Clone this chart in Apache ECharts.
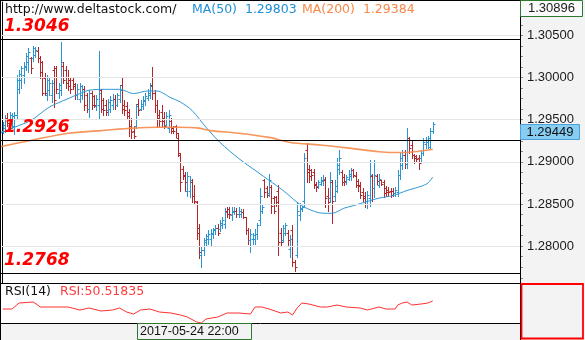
<!DOCTYPE html>
<html><head><meta charset="utf-8">
<script src="https://cdn.jsdelivr.net/npm/echarts@6/dist/echarts.min.js"></script>
<style>html,body{margin:0;padding:0;background:#fff}#c{width:585px;height:340px}</style>
</head><body><div id="c"></div>
<script>
// OHLC bars: [open, high, low, close]
const ohlc = [
[1.2936,1.2947,1.2934,1.2944],[1.2940,1.2955,1.2935,1.2952],[1.2952,1.2958,1.2943,1.2946],[1.2944,1.2959,1.2940,1.2955],
[1.2949,1.2958,1.2940,1.2954],[1.2943,1.2959,1.2933,1.2956],[1.2955,1.3003,1.2952,1.2997],[1.2987,1.3009,1.2982,1.3004],
[1.2997,1.3014,1.2988,1.3011],[1.3003,1.3018,1.2993,1.3014],[1.3013,1.3029,1.3009,1.3025],[1.3018,1.3035,1.3006,1.3030],
[1.3023,1.3024,1.3005,1.3011],[1.3023,1.3038,1.3020,1.3035],[1.3027,1.3036,1.3024,1.3033],[1.3032,1.3036,1.3018,1.3023],
[1.3023,1.3026,1.2999,1.3006],[1.3018,1.3020,1.2979,1.2982],[1.2999,1.3005,1.2979,1.2982],[1.2979,1.3003,1.2973,1.2997],
[1.2985,1.2999,1.2979,1.2994],[1.2979,1.2997,1.2971,1.2994],[1.3009,1.3014,1.2965,1.2973],[1.3011,1.3014,1.2982,1.2987],
[1.2982,1.2994,1.2976,1.2991],[1.2985,1.3042,1.2979,1.3018],[1.3014,1.3018,1.2994,1.2997],[1.3009,1.3014,1.2988,1.2994],
[1.3001,1.3009,1.2985,1.2990],[1.2997,1.3000,1.2982,1.2987],[1.2997,1.3000,1.2987,1.2990],[1.2992,1.2994,1.2975,1.2979],
[1.2979,1.2992,1.2975,1.2987],[1.2975,1.2994,1.2971,1.2990],[1.2979,1.2991,1.2975,1.2987],[1.2987,1.2990,1.2961,1.2967],
[1.2979,1.2982,1.2959,1.2963],[1.2963,1.2985,1.2953,1.2982],[1.2982,1.2984,1.2963,1.2968],[1.2978,1.2979,1.2965,1.2967],
[1.2966,1.2979,1.2961,1.2975],[1.2967,1.3032,1.2952,1.2982],[1.2985,1.2987,1.2959,1.2963],[1.2973,1.2976,1.2955,1.2961],
[1.2968,1.2973,1.2955,1.2959],[1.2961,1.2975,1.2956,1.2971],[1.2963,1.2978,1.2959,1.2973],[1.2968,1.2980,1.2963,1.2975],
[1.2975,1.2979,1.2963,1.2968],[1.2968,1.2982,1.2966,1.2979],[1.2975,1.2991,1.2971,1.2985],[1.2991,1.2999,1.2958,1.2963],
[1.2968,1.2973,1.2955,1.2961],[1.2966,1.2971,1.2952,1.2954],[1.2959,1.2963,1.2931,1.2940],[1.2943,1.2952,1.2928,1.2935],
[1.2937,1.2942,1.2928,1.2931],[1.2943,1.2969,1.2940,1.2966],[1.2969,1.2975,1.2955,1.2961],[1.2963,1.2973,1.2961,1.2969],
[1.2966,1.2978,1.2963,1.2973],[1.2972,1.2982,1.2968,1.2978],[1.2976,1.2987,1.2973,1.2982],[1.2979,1.2993,1.2976,1.2990],
[1.2991,1.3012,1.2975,1.2982],[1.2982,1.2985,1.2959,1.2967],[1.2968,1.2973,1.2941,1.2952],[1.2955,1.2961,1.2943,1.2949],
[1.2959,1.2967,1.2943,1.2949],[1.2952,1.2959,1.2940,1.2943],[1.2944,1.2959,1.2942,1.2954],[1.2940,1.2961,1.2935,1.2956],
[1.2949,1.2952,1.2934,1.2937],[1.2940,1.2942,1.2934,1.2937],[1.2942,1.2944,1.2930,1.2934],[1.2928,1.2934,1.2907,1.2911],
[1.2908,1.2910,1.2866,1.2876],[1.2892,1.2895,1.2880,1.2883],[1.2884,1.2888,1.2866,1.2876],[1.2866,1.2888,1.2860,1.2883],
[1.2866,1.2883,1.2858,1.2878],[1.2876,1.2880,1.2852,1.2860],[1.2860,1.2872,1.2851,1.2854],[1.2852,1.2854,1.2809,1.2816],
[1.2821,1.2826,1.2786,1.2793],[1.2789,1.2800,1.2775,1.2795],[1.2795,1.2810,1.2789,1.2807],[1.2805,1.2815,1.2800,1.2812],
[1.2809,1.2819,1.2803,1.2814],[1.2809,1.2820,1.2801,1.2816],[1.2814,1.2822,1.2810,1.2820],[1.2819,1.2825,1.2815,1.2822],
[1.2822,1.2826,1.2813,1.2816],[1.2820,1.2831,1.2818,1.2827],[1.2825,1.2834,1.2821,1.2831],[1.2826,1.2845,1.2822,1.2840],
[1.2842,1.2846,1.2834,1.2838],[1.2844,1.2846,1.2833,1.2838],[1.2837,1.2846,1.2831,1.2842],[1.2840,1.2846,1.2838,1.2842],
[1.2842,1.2845,1.2834,1.2838],[1.2838,1.2846,1.2834,1.2842],[1.2838,1.2844,1.2834,1.2841],[1.2841,1.2844,1.2833,1.2835],
[1.2834,1.2835,1.2815,1.2819],[1.2819,1.2822,1.2802,1.2807],[1.2807,1.2820,1.2793,1.2814],[1.2809,1.2816,1.2803,1.2813],
[1.2809,1.2820,1.2802,1.2815],[1.2814,1.2828,1.2809,1.2825],[1.2831,1.2869,1.2825,1.2860],[1.2842,1.2850,1.2839,1.2847],
[1.2878,1.2880,1.2858,1.2864],[1.2869,1.2871,1.2858,1.2861],[1.2863,1.2886,1.2860,1.2878],[1.2870,1.2872,1.2839,1.2848],
[1.2857,1.2860,1.2839,1.2842],[1.2858,1.2860,1.2848,1.2852],[1.2866,1.2872,1.2789,1.2805],[1.2816,1.2821,1.2801,1.2805],
[1.2807,1.2825,1.2805,1.2821],[1.2816,1.2828,1.2813,1.2825],[1.2816,1.2819,1.2801,1.2807],[1.2797,1.2813,1.2787,1.2809],
[1.2819,1.2825,1.2777,1.2781],[1.2781,1.2783,1.2770,1.2775],[1.2789,1.2852,1.2787,1.2842],[1.2837,1.2851,1.2831,1.2845],
[1.2844,1.2848,1.2842,1.2847],[1.2854,1.2911,1.2848,1.2904],[1.2914,1.2922,1.2876,1.2888],[1.2892,1.2896,1.2876,1.2883],
[1.2890,1.2892,1.2878,1.2884],[1.2888,1.2892,1.2869,1.2873],[1.2874,1.2876,1.2866,1.2870],[1.2871,1.2878,1.2869,1.2876],
[1.2874,1.2882,1.2872,1.2879],[1.2877,1.2884,1.2872,1.2880],[1.2879,1.2882,1.2846,1.2857],[1.2860,1.2869,1.2842,1.2852],
[1.2857,1.2888,1.2852,1.2878],[1.2876,1.2878,1.2828,1.2854],[1.2859,1.2878,1.2854,1.2871],[1.2866,1.2905,1.2864,1.2896],
[1.2892,1.2914,1.2886,1.2905],[1.2888,1.2890,1.2872,1.2876],[1.2882,1.2885,1.2872,1.2877],[1.2876,1.2884,1.2874,1.2882],
[1.2880,1.2890,1.2878,1.2886],[1.2883,1.2893,1.2878,1.2890],[1.2890,1.2891,1.2882,1.2884],[1.2883,1.2888,1.2870,1.2873],
[1.2877,1.2880,1.2866,1.2871],[1.2872,1.2876,1.2857,1.2861],[1.2864,1.2869,1.2852,1.2857],[1.2860,1.2864,1.2846,1.2854],
[1.2854,1.2866,1.2845,1.2861],[1.2857,1.2902,1.2848,1.2884],[1.2883,1.2885,1.2854,1.2869],[1.2869,1.2902,1.2858,1.2884],
[1.2883,1.2885,1.2874,1.2877],[1.2873,1.2886,1.2870,1.2880],[1.2878,1.2879,1.2872,1.2874],[1.2876,1.2878,1.2858,1.2863],
[1.2869,1.2871,1.2860,1.2864],[1.2867,1.2870,1.2861,1.2864],[1.2866,1.2869,1.2858,1.2861],[1.2866,1.2869,1.2860,1.2863],
[1.2863,1.2870,1.2860,1.2867],[1.2864,1.2890,1.2860,1.2884],[1.2884,1.2911,1.2880,1.2904],[1.2896,1.2914,1.2892,1.2908],
[1.2908,1.2914,1.2893,1.2898],[1.2898,1.2940,1.2893,1.2928],[1.2928,1.2930,1.2910,1.2916],[1.2920,1.2925,1.2904,1.2908],
[1.2908,1.2909,1.2899,1.2904],[1.2907,1.2908,1.2901,1.2903],[1.2905,1.2908,1.2892,1.2899],[1.2904,1.2914,1.2901,1.2911],
[1.2911,1.2928,1.2908,1.2923],[1.2921,1.2929,1.2916,1.2926],[1.2923,1.2931,1.2917,1.2928],[1.2918,1.2940,1.2916,1.2936],
[1.2937,1.2947,1.2934,1.29449]
];
// moving averages: [bar index, value]
const ma50 = [[-1,1.2934],[5,1.2941],[12,1.2949],[20,1.2965],[28,1.2975],[33,1.2981],[37,1.2985],[42,1.2986],[50,1.2986],[56,1.2981],[62,1.2984],[66,1.2984],[72,1.2976],[76,1.2971],[81,1.2961],[87,1.2941],[93,1.2923],[101,1.2904],[109,1.2888],[114,1.2878],[120,1.2866],[126,1.2852],[130,1.2845],[137,1.2839],[141,1.2839],[146,1.2845],[150,1.2848],[156,1.2853],[161,1.2857],[167,1.2860],[173,1.2866],[179,1.2871],[182,1.2875],[184,1.2882]];
const ma200 = [[-1,1.2918],[13,1.2926],[28,1.2934],[42,1.2937],[56,1.2940],[66,1.2941],[75,1.2941],[84,1.2940],[89,1.2937],[101,1.2934],[114,1.2929],[123,1.2923],[136,1.2920],[149,1.2916],[161,1.2912],[170,1.2911],[176,1.2912],[184,1.2915]];
// RSI(14): [bar index, value]
const rsi = [[0,40.8],[4,40.8],[7,48],[13,49.2],[15,45.6],[16,43.2],[20,43.2],[28,43.2],[33,39.6],[37,42],[42,38.4],[47,39.6],[50,42],[53,37.2],[56,34.8],[59,39.6],[63,40.8],[67,37.2],[72,36],[76,33.6],[79,31.2],[83,25.2],[85,24],[87,28.8],[92,31.2],[96,36],[101,36],[106,34.8],[108,43.2],[111,43.2],[114,40.8],[119,36],[122,37.2],[124,33.6],[126,42],[128,48],[131,46.8],[136,43.2],[139,43.2],[143,45.6],[147,43.2],[153,42],[156,39.6],[161,43.2],[164,40.8],[168,40.8],[169,45.6],[171,48],[173,49.2],[175,45.6],[179,46.8],[182,48],[184,50.5]];
const levels = [1.3046, 1.2926, 1.2768];
const yTicks = [1.280, 1.285, 1.290, 1.295, 1.300, 1.305];
const topPrice = 1.30896, bottomPrice = 1.27563;
const lastPrice = 1.29449;
const ma50Value = '1.29803', ma200Value = '1.29384', rsiValue = '50.51835';
const siteText = 'http://www.deltastock.com/';
const crossDate = '2017-05-24 22:00';

const UP = '#2b95d3', DOWN = '#b3262a';
const minorTicks = [];
for (let k = 0; k <= 26; k++) minorTicks.push(+(1.27625 + k * 0.00125).toFixed(5));

function renderOHLC(params, api) {
  const i = api.value(0);
  const o = api.value(1), h = api.value(2), l = api.value(3), c = api.value(4);
  const pH = api.coord([i, h]), pL = api.coord([i, l]);
  const pO = api.coord([i, o]), pC = api.coord([i, c]);
  const x = Math.round(pH[0]) + 0.5;
  const col = c >= o ? UP : DOWN;
  const yO = Math.round(pO[1]) + 0.5, yC = Math.round(pC[1]) + 0.5;
  const st = {stroke: col, lineWidth: 1};
  return {type: 'group', children: [
    {type: 'line', shape: {x1: x, y1: Math.round(pH[1]), x2: x, y2: Math.round(pL[1]) + 1}, style: st},
    {type: 'line', shape: {x1: x - 2, y1: yO, x2: x, y2: yO}, style: st},
    {type: 'line', shape: {x1: x, y1: yC, x2: x + 2, y2: yC}, style: st}
  ]};
}

const XMIN = -1.155, XMAX = 221.35;
const option = {
  animation: false,
  backgroundColor: '#ffffff',
  grid: [
    {left: 0, top: 2, width: 520, height: 281},
    {left: 0, top: 283, width: 520, height: 40}
  ],
  xAxis: [
    {type: 'value', gridIndex: 0, min: XMIN, max: XMAX, show: false},
    {type: 'value', gridIndex: 1, min: XMIN, max: XMAX, show: false}
  ],
  yAxis: [
    {type: 'value', gridIndex: 0, position: 'right', min: bottomPrice, max: topPrice,
     axisLine: {show: true, lineStyle: {color: '#000', width: 1}},
     axisTick: {show: true, customValues: yTicks, length: 5, lineStyle: {color: '#777'}},
     axisLabel: {show: true, customValues: yTicks, formatter: v => v.toFixed(5), color: '#1b1b1b',
                 fontFamily: 'Liberation Sans', fontSize: 13, margin: 7},
     splitLine: {show: false}},
    {type: 'value', gridIndex: 0, position: 'right', min: bottomPrice, max: topPrice,
     axisLine: {show: false},
     axisTick: {show: true, customValues: minorTicks, length: 3, lineStyle: {color: '#888'}},
     axisLabel: {show: false}, splitLine: {show: false}},
    {type: 'value', gridIndex: 1, min: 24, max: 72, show: false}
  ],
  series: [
    {type: 'line', xAxisIndex: 0, yAxisIndex: 0, data: ma200, z: 1, silent: true, showSymbol: false,
     lineStyle: {opacity: 0},
     markLine: {symbol: 'none', silent: true, animation: false, precision: 5,
       lineStyle: {color: '#e6e6e6', width: 1, type: 'solid'}, label: {show: false},
       data: yTicks.map(v => ({yAxis: v}))}},
    {type: 'custom', xAxisIndex: 0, yAxisIndex: 0, renderItem: renderOHLC, clip: true, z: 3,
     encode: {x: 0, y: [1, 2, 3, 4]},
     data: ohlc.map((d, i) => [i, d[0], d[1], d[2], d[3]])},
    {type: 'line', xAxisIndex: 0, yAxisIndex: 0, data: ma200, z: 2, silent: true, showSymbol: false,
     lineStyle: {opacity: 0},
     markLine: {symbol: 'none', silent: true, animation: false, precision: 5,
       lineStyle: {color: '#000', width: 1, type: 'solid'},
       label: {position: 'insideStartTop', formatter: p => Number(p.value).toFixed(4), color: '#ff0000',
               fontStyle: 'italic', fontWeight: 'bold', fontSize: 17, fontFamily: 'DejaVu Sans', distance: [4, 4]},
       data: levels.map(v => ({yAxis: v}))}},
    {type: 'line', name: 'MA(50)', xAxisIndex: 0, yAxisIndex: 0, data: ma50, smooth: 0.3, showSymbol: false,
     lineStyle: {color: '#2f97d6', width: 1}, z: 4, silent: true},
    {type: 'line', name: 'MA(200)', xAxisIndex: 0, yAxisIndex: 0, data: ma200, smooth: 0.3, showSymbol: false,
     lineStyle: {color: '#f5894a', width: 1.6, opacity: 0.9}, z: 4, silent: true},
    {type: 'line', name: 'RSI', xAxisIndex: 1, yAxisIndex: 2, data: rsi, showSymbol: false,
     lineStyle: {color: '#ff3030', width: 1}, z: 4, silent: true}
  ]
};

const chart = echarts.init(document.getElementById('c'), null, {renderer: 'canvas'});
chart.setOption(option);

const yLast = chart.convertToPixel({yAxisIndex: 0}, lastPrice);
const yTopPx = chart.convertToPixel({yAxisIndex: 0}, topPrice);
const SMALL = 'DejaVu Sans';
chart.setOption({graphic: [
  {type: 'rect', z: -10, silent: true, shape: {x: 521, y: 0, width: 64, height: 340}, style: {fill: '#f3f3f3'}},
  {type: 'rect', z: -10, silent: true, shape: {x: 0, y: 324, width: 521, height: 16}, style: {fill: '#f3f3f3'}},
  {type: 'line', z: 50, silent: true, shape: {x1: 0, y1: 0.5, x2: 521, y2: 0.5}, style: {stroke: '#000', lineWidth: 1}},
  {type: 'line', z: 50, silent: true, shape: {x1: 0.5, y1: 0, x2: 0.5, y2: 340}, style: {stroke: '#000', lineWidth: 1}},
  {type: 'line', z: 50, silent: true, shape: {x1: 0, y1: 283.5, x2: 521, y2: 283.5}, style: {stroke: '#000', lineWidth: 1}},
  {type: 'line', z: 50, silent: true, shape: {x1: 0, y1: 323.5, x2: 521, y2: 323.5}, style: {stroke: '#000', lineWidth: 1}},
  {type: 'line', z: 50, silent: true, shape: {x1: 520.5, y1: 0, x2: 520.5, y2: 340}, style: {stroke: '#000', lineWidth: 1}},
  {type: 'rect', z: 50, silent: true, shape: {x: 521.5, y: 284, width: 61.5, height: 54.5}, style: {fill: 'none', stroke: '#ff0000', lineWidth: 1.8}},
  // top value box
  {type: 'rect', z: 50, silent: true, shape: {x: 520.5, y: Math.round(yTopPx) - 1.5, width: 62, height: 16}, style: {fill: '#fafafa', stroke: '#2d7a2d', lineWidth: 1}},
  {type: 'text', z: 51, silent: true, style: {text: topPrice.toFixed(5), x: 551.5, y: Math.round(yTopPx) + 6.5, align: 'center', verticalAlign: 'middle', fill: '#1b1b1b', font: '13px "Liberation Sans"'}},
  // last price box
  {type: 'rect', z: 50, silent: true, shape: {x: 520.5, y: Math.round(yLast) + 0.5, width: 59, height: 15}, style: {fill: '#87cdf2', stroke: '#4aa0d8', lineWidth: 1}},
  {type: 'text', z: 51, silent: true, style: {text: lastPrice.toFixed(5), x: 550, y: Math.round(yLast) + 8.5, align: 'center', verticalAlign: 'middle', fill: '#111', font: '13px "Liberation Sans"'}},
  // header texts
  {type: 'text', z: 51, silent: true, style: {text: siteText, x: 5, y: 9.5, verticalAlign: 'middle', fill: '#111', font: '12.5px "' + SMALL + '"'}},
  {type: 'text', z: 51, silent: true, style: {text: 'MA(50)  ' + ma50Value, x: 192, y: 9.5, verticalAlign: 'middle', fill: '#1f8fd6', font: '12.5px "' + SMALL + '"'}},
  {type: 'text', z: 51, silent: true, style: {text: 'MA(200)  ' + ma200Value, x: 302, y: 9.5, verticalAlign: 'middle', fill: '#f7894a', font: '12.5px "' + SMALL + '"'}},
  {type: 'text', z: 51, silent: true, style: {text: 'RSI(14)', x: 5, y: 292, verticalAlign: 'middle', fill: '#111', font: '12.5px "' + SMALL + '"'}},
  {type: 'text', z: 51, silent: true, style: {text: 'RSI:' + rsiValue, x: 60, y: 292, verticalAlign: 'middle', fill: '#ff3a3a', font: '12.5px "' + SMALL + '"'}},
  // crosshair date box
  {type: 'rect', z: 50, silent: true, shape: {x: 137.5, y: 323.5, width: 114, height: 16}, style: {fill: '#f3f3f3', stroke: '#2d7a2d', lineWidth: 1}},
  {type: 'text', z: 51, silent: true, style: {text: crossDate, x: 140, y: 332, verticalAlign: 'middle', fill: '#111', font: '12.5px "Liberation Sans"'}}
]});
</script></body></html>
